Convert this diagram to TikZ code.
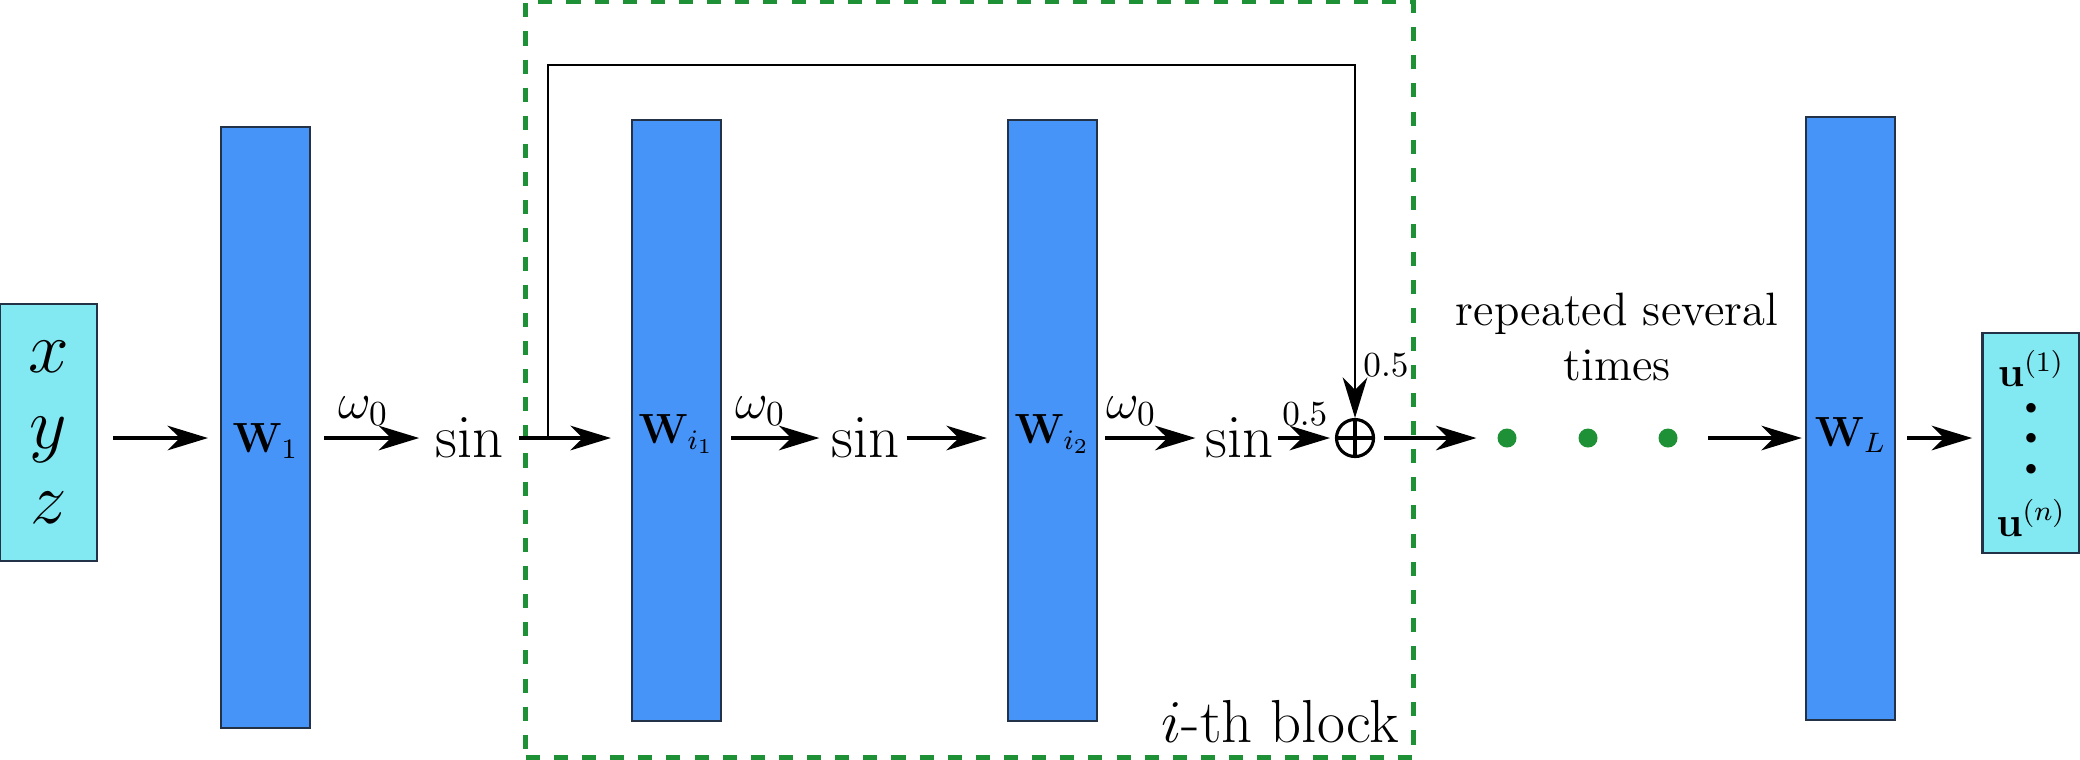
\documentclass[tikz,border=0pt]{standalone}
\usepackage{amsmath,amssymb}
\usepackage{xcolor}
\usepackage{tikz}
\usetikzlibrary{arrows.meta,calc}
\definecolor{layerblue}{RGB}{71,148,249}
\definecolor{iocyan}{RGB}{130,232,241}
\definecolor{edgedark}{RGB}{35,50,70}
\definecolor{blockgreen}{RGB}{30,145,55}
\tikzset{
  layer/.style={draw=edgedark, line width=0.6pt, fill=layerblue, minimum width=0.89cm,
                font=\large, inner sep=0pt},
  iobox/.style={draw=edgedark, line width=0.7pt, fill=iocyan, align=center,
                minimum width=0.97cm, inner sep=0pt},
  act/.style={font=\LARGE, inner sep=0pt},
  arrow/.style={-{Stealth[length=11.5pt,width=7pt,inset=3.5pt]}, line width=0.9pt},
  skip/.style={-{Stealth[length=11.5pt,width=7pt,inset=3.5pt]}, line width=0.8pt},
  wlabel/.style={above, inner sep=3pt, font=\Large},
  gain/.style={font=\normalsize, inner sep=2pt},
  gdot/.style={circle, fill=blockgreen, minimum size=0.19cm, inner sep=0pt},
  sumnode/.style={circle, draw, line width=0.9pt, minimum size=0.37cm, inner sep=0pt,
    path picture={\draw[line width=0.9pt]
      (path picture bounding box.north) -- (path picture bounding box.south)
      (path picture bounding box.west) -- (path picture bounding box.east);}},
  blockframe/.style={draw=blockgreen, line width=1.4pt, dash pattern=on 4pt off 4pt},
}

\begin{document}
\begin{tikzpicture}[x=0.01cm, y=-0.01cm]
  \useasboundingbox (0,0) rectangle (2080,759);

  % the i-th block
  \node[blockframe, minimum width=8.87cm, minimum height=7.55cm] (block) at (969.5,379.5) {};
  \node[font=\LARGE, anchor=south east, inner sep=4.5pt] (blocklabel) at (block.south east) {$i$-th block};

  \node[iobox, font=\huge, minimum height=2.57cm] (in) at (48.5,432.5) {$x$\\[-3.5pt]$y$\\[-3.5pt]$z$};
  \node[layer, minimum height=6.01cm, text height=14pt, text depth=0pt] (w1) at (265.5,427.5) {$\mathbf{W}_1$};
  \node[act] (sin1) at (470,438) {$\sin$};
  \node[layer, minimum height=6.01cm, text height=12.8pt, text depth=0pt] (wi1) at (676.5,420.5) {$\mathbf{W}_{i_1}$};
  \node[act] (sin2) at (866,438) {$\sin$};
  \node[layer, minimum height=6.01cm, text height=12.8pt, text depth=0pt] (wi2) at (1052.5,420.5) {$\mathbf{W}_{i_2}$};
  \node[act] (sin3) at (1240,438) {$\sin$};
  \node[sumnode] (sum) at (1355,438) {};

  \foreach \i/\x in {1/1507,2/1588,3/1668}
    \node[gdot] (dot\i) at (\x,438) {};
  \node[font=\fontsize{13.3}{15.6}\selectfont, align=center] (rep) at (1617,337) {repeated several\\times};

  \node[layer, minimum height=6.03cm, text height=16pt, text depth=0pt] (wl) at (1850.5,418.5) {$\mathbf{W}_L$};
  \node[iobox, font=\large, minimum height=2.2cm] (out) at (2031,443)
    {$\mathbf{u}^{(1)}$\\[-6.3pt]$\scriptscriptstyle\bullet$\\[-5.5pt]$\scriptscriptstyle\bullet$\\[-5.2pt]$\scriptscriptstyle\bullet$\\[3.6pt]$\mathbf{u}^{(n)}$};

  \coordinate (split) at (548,438);
  \coordinate (skiptop) at (548,65);

  \draw[arrow, shorten <=4.3pt, shorten >=3.4pt] (in.east |- sin1) -- (w1.west |- sin1);
  \draw[arrow, shorten <=3.7pt, shorten >=4.6pt] (w1.east |- sin1) -- node[wlabel, pos=0.42] {$\omega_0$} (sin1);
  \draw[arrow, shorten <=4pt, shorten >=5.7pt] (sin1) -- (wi1.west |- sin1);
  \draw[arrow, shorten <=2.6pt, shorten >=3.4pt] (wi1.east |- sin2) -- node[wlabel, pos=0.35] {$\omega_0$} (sin2);
  \draw[arrow, shorten <=1.7pt, shorten >=5.7pt] (sin2) -- (wi2.west |- sin2);
  \draw[arrow, shorten <=2pt, shorten >=2.8pt] (wi2.east |- sin3) -- node[wlabel, pos=0.31] {$\omega_0$} (sin3);
  \draw[arrow, shorten <=0.9pt, shorten >=1.4pt] (sin3) -- node[gain, above=1pt] {$0.5$} (sum);
  \draw[arrow, shorten <=2.6pt, shorten >=5.8pt] (sum) -- (dot1);
  \draw[arrow, shorten <=8.4pt, shorten >=0.9pt] (dot3) -- (wl.west |- dot3);
  \draw[arrow, shorten <=3.1pt, shorten >=2.6pt] (wl.east |- sum) -- (out.west |- sum);

  % skip connection
  \draw[skip] (split) -- (skiptop) -| node[gain, right, pos=0.925] {$0.5$} (sum);
\end{tikzpicture}
\end{document}
